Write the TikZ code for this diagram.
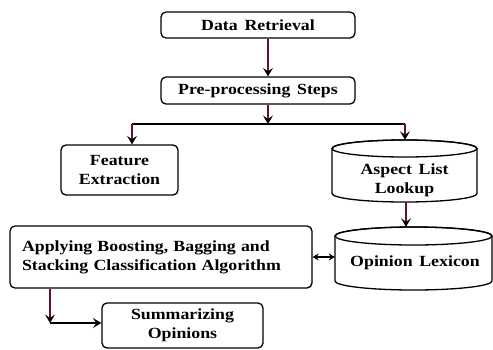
\documentclass[tikz,border=0pt]{standalone}
\usepackage{fontspec}
\setmainfont{Liberation Serif}[FakeStretch=1.15,WordSpace=1.5]
\usetikzlibrary{arrows.meta,calc}
\definecolor{dred}{RGB}{105,15,40}
\begin{document}
\begin{tikzpicture}[x=1pt,y=-1pt,
  box/.style={draw=black, line width=1.3pt, rounded corners=5pt, inner sep=0pt},
  lbl/.style={font=\bfseries\fontsize{15.5}{19}\selectfont, align=center, inner sep=0pt},
  redln/.style={draw=dred, line width=2.2pt},
  tip/.style={-{Stealth[black,length=8.5pt,width=10pt,inset=3.5pt]}},
  blk/.style={draw=black, line width=1.3pt},
  cyl/.style={draw=black, line width=1.3pt}
]
\useasboundingbox (0,0) rectangle (493,349);

% rounded boxes
\node[box, lbl, minimum width=194pt, minimum height=26pt] (dr) at (258,25) {Data Retrieval};
\node[box, lbl, minimum width=194pt, minimum height=27pt] (pp) at (258,90.5) {Pre-processing Steps};
\node[box, lbl, minimum width=117pt, minimum height=50pt] (fe) at (119.5,170) {Feature\\Extraction};
\node[box, lbl, align=left, text width=278pt, inner xsep=12pt, minimum height=62pt] (ab) at (161,257)
  {Applying Boosting, Bagging and\\Stacking Classification Algorithm};
\node[box, lbl, minimum width=161pt, minimum height=45pt] (so) at (182.5,325.5) {Summarizing\\Opinions};

% cylinders
\node[minimum width=145pt, minimum height=62pt, inner sep=0pt] (al) at (404.5,171) {};
\draw[cyl] (332,148.5) -- (332,193.5) arc[start angle=180, end angle=360, x radius=72.5pt, y radius=8.5pt]
  -- (477,148.5) arc[start angle=0, end angle=180, x radius=72.5pt, y radius=8.5pt];
\draw[cyl] (404.5,148.5) ellipse[x radius=72.5pt, y radius=8.5pt];
\node[lbl] (alt) at (404.5,180) {Aspect List\\Lookup};

\node[minimum width=157pt, minimum height=63pt, inner sep=0pt] (ol) at (413.5,258.5) {};
\draw[cyl] (335,236) -- (335,281) arc[start angle=180, end angle=360, x radius=78.5pt, y radius=9pt]
  -- (492,236) arc[start angle=0, end angle=180, x radius=78.5pt, y radius=9pt];
\draw[cyl] (413.5,236) ellipse[x radius=78.5pt, y radius=9pt];
\node[lbl] (olt) at (415,263) {Opinion Lexicon};

% connectors
\coordinate (sp) at (268,124);
\coordinate (spl) at (132,124);
\coordinate (spr) at (405,124);
\coordinate (cn) at (50,323);

\draw[redln, tip] ([xshift=10pt]dr.south) -- ([xshift=10pt]pp.north);
\draw[redln, tip] ([xshift=10pt]pp.south) -- (sp);
\draw[blk] (spl) -- (spr);
\draw[redln, tip] (spl) -- (spl |- fe.north);
\draw[redln, tip] (spr) -- (spr |- al.north);
\draw[redln, tip] ([xshift=1.5pt]al.south) -- ([xshift=1.5pt]al.south |- ol.north);
\draw[blk, {Stealth[black,length=6pt,width=7pt,inset=2pt]}-{Stealth[black,length=6pt,width=7pt,inset=2pt]}] (ab.east) -- (ab.east -| ol.west);
\draw[redln, tip] (ab.south -| cn) -- (cn);
\draw[blk, tip] (cn) -- (cn -| so.west);
\end{tikzpicture}
\end{document}
